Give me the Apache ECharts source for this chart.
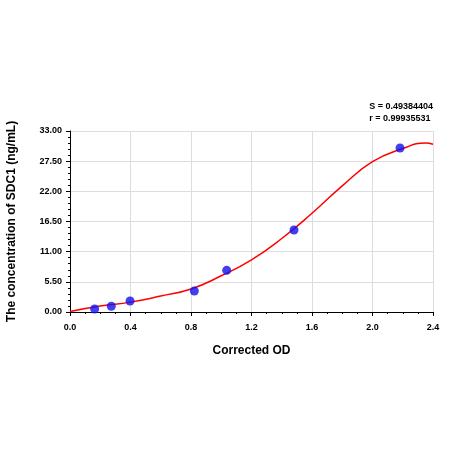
<!DOCTYPE html><html><head><script src="https://cdn.jsdelivr.net/npm/echarts@6/dist/echarts.min.js"></script></head><body style="margin:0;background:#fff"><div id="c" style="width:450px;height:450px"></div><script>
const pointsX=[0.163,0.273,0.397,0.822,1.036,1.481,2.182];
const pointsY=[0.55,1.04,2.0,3.83,7.6,14.95,29.9];
const curveX=[0,0.2,0.4,0.6,0.8,1.0,1.2,1.4,1.6,1.8,2.0,2.2,2.35,2.4];
const curveY=[0.1,1.1,1.8,2.9,4.2,6.6,9.5,13.4,18.0,23.0,27.4,29.8,30.8,30.6];
const statsText=['S = 0.49384404','r = 0.99935531'];
const ch=echarts.init(document.getElementById('c'));
ch.setOption({
animation:false,
grid:{left:70,right:17,top:131,bottom:138,containLabel:false,outerBoundsMode:'none'},
graphic:[{type:'text',right:17,top:99,style:{text:statsText.join('\n'),font:'bold 9px Arial',fill:'#000',align:'right',lineHeight:12}}],
xAxis:{type:'value',min:0,max:2.4,interval:0.4,name:'Corrected OD',nameLocation:'middle',nameGap:28,nameTextStyle:{fontWeight:'bold',fontSize:12,fontFamily:'Arial',color:'#000'},
axisLine:{lineStyle:{color:'#000'}},axisTick:{length:4,lineStyle:{color:'#000'}},minorTick:{show:true,splitNumber:4,length:2,lineStyle:{color:'#000'}},
axisLabel:{fontSize:9,fontWeight:'bold',color:'#000',formatter:v=>v.toFixed(1)},splitLine:{show:true,lineStyle:{color:'#ddd'}}},
yAxis:{type:'value',min:0,max:33,interval:5.5,name:'The concentration of SDC1 (ng/mL)',nameLocation:'middle',nameGap:48,nameTextStyle:{fontWeight:'bold',fontSize:12,fontFamily:'Arial',color:'#000'},
axisLine:{show:true,lineStyle:{color:'#000'}},axisTick:{length:4,lineStyle:{color:'#000'}},minorTick:{show:true,splitNumber:5,length:2,lineStyle:{color:'#000'}},
axisLabel:{fontSize:9,fontWeight:'bold',color:'#000',formatter:v=>v.toFixed(2)},splitLine:{show:true,lineStyle:{color:'#ddd'}}},
series:[
{type:'line',data:curveX.map((x,i)=>[x,curveY[i]]),smooth:0.5,symbol:'none',lineStyle:{color:'#f00',width:1.5},z:2},
{type:'scatter',data:pointsX.map((x,i)=>[x,pointsY[i]]),symbolSize:9,itemStyle:{color:'#1010ee'},z:3}
]});
</script></body></html>
